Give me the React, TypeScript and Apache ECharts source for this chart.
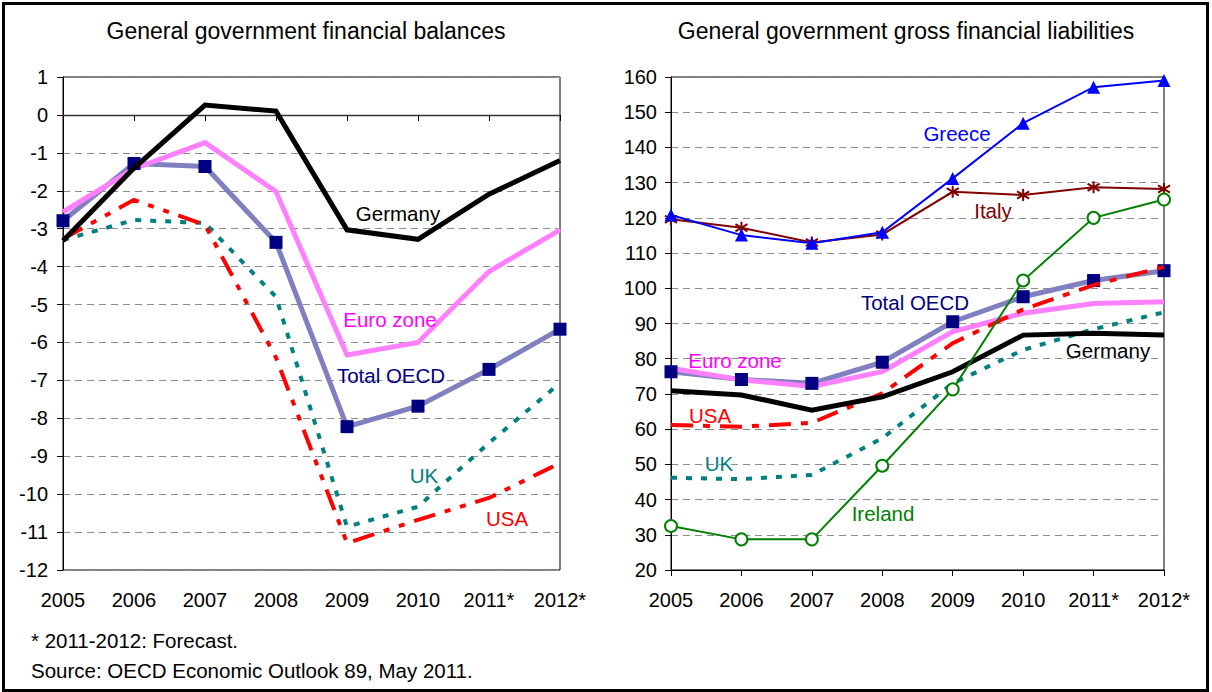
import React, { useEffect, useRef } from "react";
import * as echarts from "echarts";

const years = ["2005", "2006", "2007", "2008", "2009", "2010", "2011*", "2012*"];

// Left panel: General government financial balances (% of GDP)
const balGermany = [-3.32, -1.4, 0.26, 0.1, -3.03, -3.28, -2.09, -1.2];
const balEuro = [-2.56, -1.42, -0.73, -2.02, -6.33, -6.0, -4.13, -3.03];
const balOECD = [-2.79, -1.28, -1.36, -3.36, -8.22, -7.68, -6.71, -5.65];
const balUK = [-3.3, -2.77, -2.85, -4.8, -10.86, -10.33, -8.65, -7.07];
const balUSA = [-3.27, -2.24, -2.9, -6.4, -11.29, -10.68, -10.1, -9.18];

// Right panel: General government gross financial liabilities (% of GDP)
const liaGreece = [120.8, 115.1, 112.8, 115.9, 131.2, 146.9, 157.1, 159.0];
const liaItaly = [119.6, 117.2, 113.0, 115.3, 127.4, 126.5, 128.7, 128.2];
const liaIreland = [32.5, 28.7, 28.7, 49.6, 71.3, 102.2, 120.0, 125.2];
const liaOECD = [76.3, 74.1, 73.0, 79.0, 90.5, 97.6, 102.2, 105.0];
const liaUSA = [61.2, 60.7, 61.8, 70.2, 84.4, 94.0, 100.9, 106.1];
const liaEuro = [77.3, 74.0, 72.1, 76.3, 87.7, 92.9, 95.7, 96.2];
const liaGermany = [70.9, 69.7, 65.4, 69.2, 76.3, 86.7, 87.2, 86.7];
const liaUK = [46.2, 45.8, 47.0, 57.4, 73.0, 82.5, 88.4, 93.2];

const FONT = "'Liberation Sans', Arial, Helvetica, sans-serif";
const C_GER = "#000000";
const C_EURO = "#FF80FF";
const C_OECD_LINE = "#8080C0";
const C_OECD_MARK = "#000080";
const C_UK = "#008080";
const C_USA = "#FF0000";
const C_GRE = "#0000FF";
const C_ITA = "#800000";
const C_IRL = "#008000";

const ASTERISK = "path://M5,0L5,10M0,2L10,8M0,8L10,2";

export default function App() {
  const ref = useRef<HTMLDivElement>(null);
  useEffect(() => {
    if (!ref.current) return;
    const chart = echarts.init(ref.current, null, { renderer: "svg" });

    const axisLabel = { color: "#000", fontSize: 20, fontFamily: FONT };
    const xAxisCommon = (gridIndex: number) => ({
      type: "category" as const,
      gridIndex,
      data: years,
      boundaryGap: false,
      axisLine: { show: true, lineStyle: { color: "#000", width: 1 } },
      axisTick: { show: true, length: 6, lineStyle: { color: "#000" } },
      axisLabel: { ...axisLabel, margin: 20 },
      splitLine: { show: false },
    });
    const yAxisCommon = (gridIndex: number, min: number, max: number, interval: number, margin: number) => ({
      type: "value" as const,
      gridIndex,
      min,
      max,
      interval,
      axisLine: { show: true, lineStyle: { color: "#000", width: 1 } },
      axisTick: { show: true, length: 6, lineStyle: { color: "#000" } },
      axisLabel: { ...axisLabel, margin },
      splitLine: { show: true, lineStyle: { color: "#8C8C8C", type: [7, 5], width: 1 } },
    });

    const line = (
      name: string,
      data: number[],
      idx: number,
      color: string,
      width: number,
      type: any,
      z: number
    ) => ({
      name,
      type: "line" as const,
      xAxisIndex: idx,
      yAxisIndex: idx,
      data,
      symbol: "none",
      z,
      lineStyle: { color, width, type, cap: "butt" as const, join: "miter" as const },
      itemStyle: { color },
      silent: true,
    });

    const markers = (name: string, data: number[], idx: number, z: number) => ({
      name,
      type: "line" as const,
      xAxisIndex: idx,
      yAxisIndex: idx,
      data,
      symbol: "rect",
      symbolSize: 13,
      showAllSymbol: true,
      z,
      lineStyle: { opacity: 0, width: 0 },
      itemStyle: { color: C_OECD_MARK },
      silent: true,
    });

    const labels: any[] = [
      // left panel
      { t: "Germany", x: 398, y: 213, c: C_GER },
      { t: "Euro zone", x: 390, y: 319, c: "#FF00FF" },
      { t: "Total OECD", x: 391, y: 375, c: C_OECD_MARK },
      { t: "UK", x: 424, y: 475, c: C_UK },
      { t: "USA", x: 507, y: 518, c: C_USA },
      // right panel
      { t: "Greece", x: 957, y: 133, c: C_GRE },
      { t: "Italy", x: 993, y: 210, c: C_ITA },
      { t: "Total OECD", x: 915, y: 302, c: C_OECD_MARK },
      { t: "Euro zone", x: 735, y: 360, c: "#FF00FF" },
      { t: "Germany", x: 1108, y: 350, c: C_GER },
      { t: "USA", x: 710, y: 415, c: C_USA },
      { t: "UK", x: 719, y: 463, c: C_UK },
      { t: "Ireland", x: 883, y: 513, c: C_IRL },
    ];

    chart.setOption({
      animation: false,
      backgroundColor: "#FFFFFF",
      textStyle: { fontFamily: FONT },
      grid: [
        { left: 63, right: 652, top: 77, bottom: 122, show: true, borderColor: "#000", borderWidth: 1, backgroundColor: "transparent" },
        { left: 671, right: 48, top: 77, bottom: 122, show: true, borderColor: "#000", borderWidth: 1, backgroundColor: "transparent" },
      ],
      xAxis: [xAxisCommon(0), xAxisCommon(1)],
      yAxis: [yAxisCommon(0, -12, 1, 1, 15), yAxisCommon(1, 20, 160, 10, 14)],
      series: [
        // left
        {
          ...line("Total OECD", balOECD, 0, C_OECD_LINE, 5, "solid", 2),
          markLine: {
            silent: true,
            symbol: "none",
            label: { show: false },
            lineStyle: { color: "#333333", width: 1.3, type: "solid" },
            data: [{ yAxis: 0 }],
          },
        },
        line("Euro zone", balEuro, 0, C_EURO, 5, "solid", 3),
        markers("Total OECD markers", balOECD, 0, 4),
        line("UK", balUK, 0, C_UK, 4, [6, 9], 5),
        line("USA", balUSA, 0, C_USA, 4, [22, 10, 6, 10, 6, 10], 6),
        line("Germany", balGermany, 0, C_GER, 5, "solid", 7),
        // right
        line("Total OECD", liaOECD, 1, C_OECD_LINE, 5, "solid", 2),
        line("Euro zone", liaEuro, 1, C_EURO, 5, "solid", 3),
        markers("Total OECD markers", liaOECD, 1, 4),
        line("UK", liaUK, 1, C_UK, 4, [6, 9], 5),
        line("USA", liaUSA, 1, C_USA, 4, [22, 10, 7, 10], 6),
        line("Germany", liaGermany, 1, C_GER, 5, "solid", 7),
        {
          ...line("Italy", liaItaly, 1, C_ITA, 2, "solid", 8),
          symbol: ASTERISK,
          symbolSize: 12,
          showAllSymbol: true,
          itemStyle: { color: "transparent", borderColor: C_ITA, borderWidth: 2 },
        },
        {
          ...line("Greece", liaGreece, 1, C_GRE, 2, "solid", 9),
          symbol: "triangle",
          symbolSize: 13,
          showAllSymbol: true,
          itemStyle: { color: C_GRE },
        },
        {
          ...line("Ireland", liaIreland, 1, C_IRL, 2, "solid", 10),
          symbol: "emptyCircle",
          symbolSize: 12,
          showAllSymbol: true,
          itemStyle: { color: C_IRL, borderColor: C_IRL, borderWidth: 2 },
        },
      ],
      graphic: [
        {
          type: "rect",
          shape: { x: 3.5, y: 3.5, width: 1204, height: 687 },
          style: { fill: "none", stroke: "#000", lineWidth: 3 },
          silent: true,
          z: 100,
        },
        {
          type: "text",
          x: 306,
          y: 31,
          style: { text: "General government financial balances", font: `23px ${FONT}`, fill: "#000", textAlign: "center", textVerticalAlign: "middle" },
        },
        {
          type: "text",
          x: 906,
          y: 31,
          style: { text: "General government gross financial liabilities", font: `23px ${FONT}`, fill: "#000", textAlign: "center", textVerticalAlign: "middle" },
        },
        {
          type: "text",
          x: 31,
          y: 640,
          style: { text: "* 2011-2012: Forecast.", font: `20.5px ${FONT}`, fill: "#000", textAlign: "left", textVerticalAlign: "middle" },
        },
        {
          type: "text",
          x: 31,
          y: 670,
          style: { text: "Source: OECD Economic Outlook 89, May 2011.", font: `20.5px ${FONT}`, fill: "#000", textAlign: "left", textVerticalAlign: "middle" },
        },
        ...labels.map((l) => ({
          type: "text",
          x: l.x,
          y: l.y,
          z: 50,
          style: { text: l.t, font: `20.5px ${FONT}`, fill: l.c, textAlign: "center", textVerticalAlign: "middle" },
        })),
      ],
    });
    return () => chart.dispose();
  }, []);

  return (
    <div
      ref={ref}
      style={{ position: "absolute", left: 0, top: 0, width: 1212, height: 692 }}
    />
  );
}
